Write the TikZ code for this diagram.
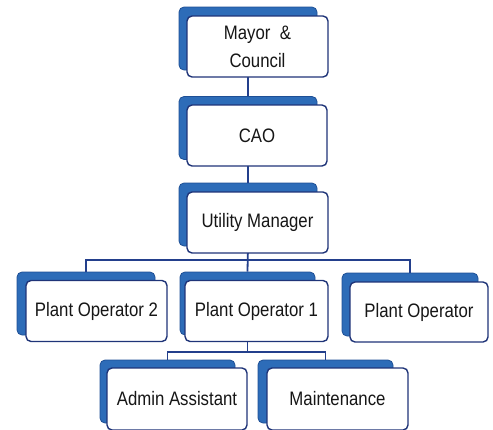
\documentclass[tikz,border=0pt]{standalone}
\usepackage{fontspec}
\setmainfont[FakeStretch=0.86]{Liberation Sans}
\definecolor{backblue}{HTML}{2D6CB8}
\definecolor{backedge}{HTML}{1E4F95}
\definecolor{frontedge}{HTML}{1F3478}
\definecolor{linkblue}{HTML}{233F8C}
\definecolor{txt}{HTML}{161616}
\begin{document}
\begin{tikzpicture}[x=1pt,y=-1pt,
  backbox/.style={draw=backedge,line width=0.8pt,fill=backblue,rounded corners=5pt,inner sep=0pt,minimum width=#1,minimum height=63pt},
  backbox/.default=138pt,
  frontbox/.style={draw=frontedge,line width=1.4pt,fill=white,rounded corners=5pt,inner sep=0pt,minimum width=#1,minimum height=61pt,text=txt,align=center,font=\fontsize{19.5}{28}\selectfont},
  frontbox/.default=141pt,
  link/.style={draw=linkblue,line width=1.8pt}]
\useasboundingbox (0,0) rectangle (493,429);
% back boxes
\node[backbox] (mayorb) at (248,38.5) {};
\node[backbox] (caob) at (248,128) {};
\node[backbox] (umb) at (248,214.5) {};
\node[backbox] (po2b) at (86,303.5) {};
\node[backbox=135pt] (po1b) at (247.5,303.5) {};
\node[backbox=136pt] (pob) at (410,304.5) {};
\node[backbox=135pt] (aab) at (167.5,391.5) {};
\node[backbox=135pt] (mtb) at (325.5,391.5) {};
% connectors
\draw[link] (mayorb.south) -- (caob.north);
\draw[link] (caob.south) -- (umb.north);
\draw[link] (umb.south) -- (po1b.north);
\draw[link] (po2b.north) -- ++(0,-12) -| (pob.north);
\coordinate (bus2) at (247.5,352);
\draw[link] (po1b.center) -- (bus2);
\draw[link] (aab.north) -- ++(0,-8) -| (mtb.north);
% front boxes
\node[frontbox] (mayor) at (257.5,46.5) {Mayor\ \ \&\\Council};
\node[frontbox=140pt] (cao) at (257,135.5) {CAO};
\node[frontbox] (um) at (257.5,222.5) {Utility Manager};
\node[frontbox] (po2) at (96.5,311) {Plant Operator 2};
\node[frontbox=143pt] (po1) at (256.5,311) {Plant Operator 1};
\node[frontbox=138pt,minimum height=60pt] (po) at (419,312) {Plant Operator};
\node[frontbox=140pt,minimum height=62pt] (aa) at (177,399) {Admin Assistant};
\node[frontbox,minimum height=62pt] (mt) at (337.5,399) {Maintenance};
\end{tikzpicture}
\end{document}
